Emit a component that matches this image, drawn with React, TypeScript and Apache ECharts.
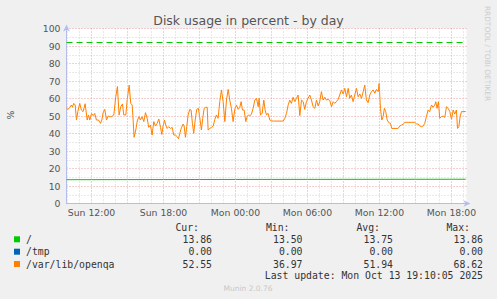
import React, { useEffect, useRef } from 'react';
import * as echarts from 'echarts';

// time in hours since Sun 00:00
const X_MIN = 9.9167;
const X_MAX = 43.25;
const xLabelHours = [12, 18, 24, 30, 36, 42];

const rootTimes = [9.92, 24.0, 43.19];
const rootValues = [13.6, 13.75, 13.86];
const tmpTimes = [9.92, 43.19];
const tmpValues = [0, 0];
const warningLevel = 92;

const varTimes = [
  9.92, 10.05, 10.19, 10.33, 10.41, 10.52, 10.64, 10.75, 10.86, 11.02, 11.16, 11.3, 11.47, 11.64, 11.75, 11.86,
  12.0, 12.14, 12.27, 12.41, 12.58, 12.75, 12.86, 12.97, 13.11, 13.25, 13.39, 13.52, 13.66, 13.86, 14.02, 14.16,
  14.3, 14.44, 14.58, 14.69, 14.86, 14.98, 15.14, 15.27, 15.39, 15.47, 15.55, 15.69, 15.83, 15.97, 16.08, 16.22,
  16.36, 16.5, 16.64, 16.77, 16.91, 17.05, 17.19, 17.33, 17.47, 17.61, 17.75, 17.86, 17.97, 18.08, 18.19, 18.3,
  18.44, 18.58, 18.72, 18.86, 18.99, 19.14, 19.25, 19.36, 19.5, 19.64, 19.72, 19.83, 19.94, 20.05, 20.19, 20.3,
  20.41, 20.52, 20.64, 20.77, 20.91, 21.05, 21.16, 21.27, 21.39, 21.52, 21.64, 21.72, 21.86, 22.0, 22.14, 22.28,
  22.41, 22.55, 22.69, 22.83, 22.97, 23.11, 23.25, 23.39, 23.52, 23.66, 23.8, 23.94, 24.08, 24.22, 24.36, 24.47,
  24.58, 24.72, 24.86, 24.97, 25.08, 25.19, 25.33, 25.47, 25.61, 25.75, 25.89, 25.97, 26.08, 26.22, 26.36, 26.47,
  26.58, 26.72, 26.86, 27.0, 27.14, 27.97, 28.11, 28.25, 28.39, 28.52, 28.66, 28.8, 28.94, 29.08, 29.22, 29.36,
  29.5, 29.64, 29.77, 29.91, 30.05, 30.19, 30.33, 30.47, 30.61, 30.75, 30.89, 31.02, 31.16, 31.3, 31.44, 31.58,
  31.72, 31.86, 32.0, 32.14, 32.27, 32.41, 32.55, 32.69, 32.83, 32.97, 33.11, 33.25, 33.39, 33.52, 33.66, 33.8,
  33.94, 34.08, 34.22, 34.36, 34.5, 34.64, 34.77, 34.91, 35.05, 35.19, 35.33, 35.47, 35.61, 35.75, 35.89, 35.97,
  36.08, 36.19, 36.3, 36.41, 36.52, 36.64, 36.77, 36.91, 37.02, 37.55, 37.69, 37.83, 37.97, 38.11, 38.94, 39.08,
  39.22, 39.36, 39.5, 39.64, 39.77, 39.91, 40.05, 40.19, 40.33, 40.47, 40.61, 40.69, 40.8, 40.91, 41.02, 41.16,
  41.3, 41.44, 41.58, 41.72, 41.86, 42.0, 42.14, 42.27, 42.41, 42.5, 42.61, 42.72, 42.83, 43.19,
];
const varValues = [
  54.4, 53.8, 55.0, 56.3, 55.0, 57.2, 56.3, 47.7, 52.5, 57.2, 53.4, 52.5, 57.0, 47.7, 50.6, 47.7,
  51.5, 50.2, 51.5, 47.7, 47.7, 45.8, 47.7, 51.9, 53.8, 47.7, 50.0, 49.6, 49.6, 50.6, 61.0, 66.8,
  50.6, 55.3, 56.9, 50.6, 50.6, 59.5, 67.7, 57.2, 56.3, 47.7, 37.8, 42.0, 47.7, 49.6, 47.7, 49.6,
  46.8, 51.9, 48.7, 43.5, 44.8, 39.1, 46.8, 44.3, 45.8, 48.3, 43.5, 39.5, 44.3, 47.7, 44.8, 42.9,
  43.9, 42.9, 43.5, 39.1, 39.1, 38.2, 37.0, 40.1, 43.5, 45.4, 44.3, 37.8, 43.9, 50.6, 53.8, 53.4,
  45.8, 40.1, 47.7, 53.8, 54.4, 47.7, 42.0, 48.7, 54.4, 55.0, 55.0, 42.0, 42.9, 43.5, 44.3, 48.1,
  50.6, 48.7, 58.2, 64.9, 58.2, 46.8, 59.1, 65.2, 59.1, 54.4, 46.8, 53.8, 56.3, 53.8, 55.0, 58.2,
  53.4, 53.4, 46.8, 49.6, 50.6, 50.0, 51.1, 54.4, 59.1, 60.1, 55.3, 60.1, 50.6, 51.5, 59.1, 53.4,
  50.6, 51.5, 47.7, 47.3, 47.1, 47.1, 48.7, 51.5, 56.3, 59.1, 57.2, 60.7, 58.2, 60.1, 62.0, 50.2,
  59.1, 58.2, 53.8, 58.2, 60.1, 62.0, 59.1, 55.3, 54.4, 59.1, 55.7, 58.2, 63.9, 59.1, 60.7, 59.1,
  59.5, 58.8, 55.3, 58.2, 57.2, 58.2, 59.5, 62.0, 64.9, 62.6, 65.8, 61.0, 65.8, 60.1, 62.0, 58.2,
  62.0, 65.8, 61.0, 62.6, 60.1, 63.9, 67.7, 59.1, 57.6, 62.0, 63.9, 64.9, 63.0, 65.2, 63.9, 68.6,
  54.4, 47.7, 49.6, 54.4, 52.5, 47.7, 46.2, 45.8, 42.9, 42.9, 44.3, 44.8, 45.2, 46.4, 46.4, 45.4,
  45.4, 44.3, 43.9, 44.3, 45.8, 49.6, 53.4, 52.5, 56.3, 55.0, 56.3, 58.2, 54.4, 58.2, 48.7, 49.6,
  50.0, 49.2, 55.3, 54.4, 52.5, 48.1, 53.4, 51.1, 53.4, 42.9, 43.9, 49.6, 52.5, 52.55,
];

const legendNames = ['/', '/tmp', '/var/lib/openqa'];
const legendColors = ['#00cc00', '#0066b3', '#ff8000'];
const curValues = ['13.86', '0.00', '52.55'];
const minValues = ['13.50', '0.00', '36.97'];
const avgValues = ['13.75', '0.00', '51.94'];
const maxValues = ['13.86', '0.00', '68.62'];
const statHeaders = ['Cur:', 'Min:', 'Avg:', 'Max:'];
const lastUpdate = 'Last update: Mon Oct 13 19:10:05 2025';

const SANS = 'DejaVu Sans';
const MONO = 'DejaVu Sans Mono';
const TEXT = '#555555';
const MAJOR_GRID = '#e8a0a0';
const MINOR_GRID = '#d2d2d2';

export default function App() {
  const ref = useRef<HTMLDivElement>(null);
  useEffect(() => {
    if (!ref.current) return;
    const chart = echarts.init(ref.current, undefined, { renderer: 'svg' });

    const majorHours: number[] = [];
    const minorHours: number[] = [];
    for (let h = Math.ceil(X_MIN); h <= Math.floor(X_MAX); h++) {
      (h % 3 === 0 ? majorHours : minorHours).push(h);
    }

    const statCols = [curValues, minValues, avgValues, maxValues];
    const valueRight = [212, 302.5, 393, 483];
    const headerRight = [199, 289.5, 380, 470];
    const rowY = [239.3, 251.7, 264];

    const graphics: any[] = [
      {
        type: 'text', x: 248.5, y: 20,
        style: { text: 'Disk usage in percent - by day', font: `12.5px "${SANS}"`, fill: TEXT, align: 'center', verticalAlign: 'middle' },
      },
      {
        type: 'text', x: 10, y: 115, rotation: Math.PI / 2,
        style: { text: '%', font: `9.3px "${SANS}"`, fill: TEXT, align: 'center', verticalAlign: 'middle' },
      },
      {
        type: 'text', x: 487, y: 53.5, rotation: -Math.PI / 2,
        style: { text: 'RRDTOOL / TOBI OETIKER', font: `7.4px "${SANS}"`, fill: '#cccccc', align: 'center', verticalAlign: 'middle' },
      },
      {
        type: 'text', x: 248, y: 288.5,
        style: { text: 'Munin 2.0.76', font: `7.5px "${SANS}"`, fill: '#c8c8c8', align: 'center', verticalAlign: 'middle' },
      },
      {
        type: 'text', x: 483, y: 275.5,
        style: { text: lastUpdate, font: `9.8px "${MONO}"`, fill: '#333333', align: 'right', verticalAlign: 'middle' },
      },
    ];
    statHeaders.forEach((h, i) => {
      graphics.push({
        type: 'text', x: headerRight[i], y: 227.7,
        style: { text: h, font: `9.8px "${MONO}"`, fill: '#333333', align: 'right', verticalAlign: 'middle' },
      });
    });
    legendNames.forEach((name, r) => {
      graphics.push({
        type: 'rect', shape: { x: 14, y: rowY[r] - 3, width: 6, height: 6 },
        style: { fill: legendColors[r] },
      });
      graphics.push({
        type: 'text', x: 26, y: rowY[r],
        style: { text: name, font: `9.8px "${MONO}"`, fill: '#333333', align: 'left', verticalAlign: 'middle' },
      });
      statCols.forEach((col, c) => {
        graphics.push({
          type: 'text', x: valueRight[c], y: rowY[r],
          style: { text: col[r], font: `9.8px "${MONO}"`, fill: '#333333', align: 'right', verticalAlign: 'middle' },
        });
      });
    });

    const pair = (t: number[], v: number[]) => t.map((x, i) => [x, v[i]]);
    const dot = [1, 2];

    chart.setOption({
      animation: false,
      backgroundColor: '#f0f0f0',
      grid: { left: 66.5, right: 30.5, top: 28.5, bottom: 95.5, show: true, backgroundColor: '#ffffff', borderWidth: 0 },
      xAxis: [
        {
          type: 'value', min: X_MIN, max: X_MAX, z: 5,
          axisLine: { show: true, lineStyle: { color: '#b4bdec', width: 1 }, symbol: ['none', 'arrow'], symbolSize: [5, 7], symbolOffset: [0, 4] },
          axisTick: { show: false, customValues: majorHours },
          splitLine: { show: true, lineStyle: { color: MAJOR_GRID, type: dot, width: 1 } },
          axisLabel: {
            customValues: xLabelHours,
            color: TEXT, fontFamily: SANS, fontSize: 9.3, margin: 4,
            formatter: (v: number) => `${v < 24 ? 'Sun' : 'Mon'} ${String(v % 24).padStart(2, '0')}:00`,
          },
        },
        {
          type: 'value', min: X_MIN, max: X_MAX, position: 'bottom', z: 0,
          axisLine: { show: false },
          axisTick: { show: false, customValues: minorHours },
          axisLabel: { show: false },
          splitLine: { show: true, lineStyle: { color: MINOR_GRID, type: dot, width: 1 } },
        },
      ],
      yAxis: {
        type: 'value', min: 0, max: 100, interval: 10,
        axisLine: { show: true, lineStyle: { color: '#b4bdec', width: 1 }, symbol: ['none', 'arrow'], symbolSize: [5, 7], symbolOffset: [0, 4] },
        axisTick: { show: false },
        axisLabel: { color: TEXT, fontFamily: SANS, fontSize: 9.3, margin: 6 },
        splitLine: { show: true, lineStyle: { color: MAJOR_GRID, type: dot, width: 1 } },
        minorTick: { show: false, splitNumber: 2 },
        minorSplitLine: { show: true, lineStyle: { color: MINOR_GRID, type: dot, width: 1 } },
      },
      graphic: graphics,
      series: [
        {
          type: 'line', name: '/tmp', data: pair(tmpTimes, tmpValues), symbol: 'none', z: 1,
          lineStyle: { color: legendColors[1], width: 1 },
        },
        {
          type: 'line', name: '/', data: pair(rootTimes, rootValues), symbol: 'none', z: 3,
          lineStyle: { color: legendColors[0], width: 1 },
          markLine: {
            silent: true, symbol: ['none', 'none'], label: { show: false }, animation: false,
            lineStyle: { color: legendColors[0], type: [6, 4], width: 1 },
            data: [{ yAxis: warningLevel }],
          },
        },
        {
          type: 'line', name: '/var/lib/openqa', data: pair(varTimes, varValues), symbol: 'none', z: 3,
          lineStyle: { color: legendColors[2], width: 1 },
        },
      ],
    });
    return () => chart.dispose();
  }, []);
  return <div ref={ref} style={{ position: 'fixed', left: 0, top: 0, width: 497, height: 299 }} />;
}
